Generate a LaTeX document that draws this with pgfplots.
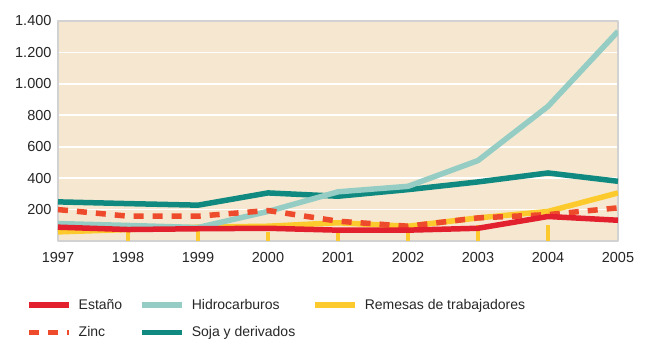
\documentclass[border=0pt]{standalone}
\usepackage{pgfplots}
\pgfplotsset{compat=1.18}
\usepackage{fontspec}
\setmainfont{Liberation Sans}
\definecolor{bg}{HTML}{F6E8D0}
\definecolor{estano}{HTML}{E2202E}
\definecolor{hidro}{HTML}{95CDC5}
\definecolor{remesas}{HTML}{FCCA2C}
\definecolor{zinc}{HTML}{EE4A2C}
\definecolor{soja}{HTML}{108A80}
\definecolor{framec}{HTML}{D2D2D2}
\begin{document}
\begin{tikzpicture}
\useasboundingbox (-58pt,-102pt) rectangle (589pt,241pt);
\begin{axis}[
  at={(0,0)}, anchor=south west,
  scale only axis, width=560pt, height=220pt,
  xmin=1997, xmax=2005, ymin=0, ymax=1400,
  xtick={1997,1998,...,2005},
  ytick={200,400,...,1400},
  x tick label style={/pgf/number format/1000 sep={}},
  y tick label style={/pgf/number format/1000 sep={.}},
  /pgf/number format/assume math mode=true,
  tick label style={font=\fontsize{14.5}{16}\selectfont, text=black!85},
  major tick length=0pt,
  axis background/.style={fill=bg},
  ymajorgrids, grid style={white, line width=1.6pt},
  axis line style={framec, line width=1.2pt},
  xticklabel style={yshift=-8pt}, yticklabel style={xshift=-3pt},
  legend columns=3,
  legend cell align=left,
  legend style={draw=none, fill=none, at={(rel axis cs:0,0)}, anchor=north west,
    xshift=-35pt, yshift=-54pt,
    font=\fontsize{14}{16}\selectfont, text=black!85,
    /tikz/every odd column/.append style={column sep=5pt},
    /tikz/every even column/.append style={column sep=15pt},
    row sep=12pt},
  legend image code/.code={\draw[#1] (0pt,0pt) -- (40pt,0pt);},
  line cap=butt, line join=round,
]
\addlegendimage{estano, line width=5.5pt}
\addlegendentry{Estaño}
\addlegendimage{hidro, line width=5.5pt}
\addlegendentry{Hidrocarburos}
\addlegendimage{remesas, line width=5.5pt}
\addlegendentry{Remesas de trabajadores}
\addlegendimage{zinc, line width=5.5pt, dash pattern=on 10pt off 9pt}
\addlegendentry{Zinc}
\addlegendimage{soja, line width=5.5pt}
\addlegendentry{Soja y derivados}

% yellow stubs
\addplot[ycomb, remesas, line width=3.5pt, forget plot, mark=none]
  coordinates {(1998,55)(1999,90)(2000,60)(2001,60)(2002,60)(2003,105)(2004,105)};
% Soja y derivados
\addplot[soja, line width=5.5pt, forget plot, mark=none]
  coordinates {(1997,249)(1998,238)(1999,228)(2000,306)(2001,285)(2002,327)(2003,376)(2004,433)(2005,380)};
% Remesas de trabajadores
\addplot[remesas, line width=5.5pt, forget plot, mark=none]
  coordinates {(1997,58)(1998,73)(1999,88)(2000,94)(2001,116)(2002,94)(2003,147)(2004,188)(2005,306)};
% Hidrocarburos
\addplot[hidro, line width=5.5pt, forget plot, mark=none]
  coordinates {(1997,111)(1998,99)(1999,86)(2000,188)(2001,313)(2002,348)(2003,512)(2004,857)(2005,1334)};
% Zinc
\addplot[zinc, line width=5.5pt, dash pattern=on 10pt off 9pt, forget plot, mark=none]
  coordinates {(1997,200)(1998,158)(1999,158)(2000,194)(2001,126)(2002,94)(2003,147)(2004,168)(2005,211)};
% Estaño
\addplot[estano, line width=5.5pt, forget plot, mark=none]
  coordinates {(1997,88)(1998,73)(1999,78)(2000,81)(2001,69)(2002,69)(2003,81)(2004,156)(2005,132)};
\end{axis}
\end{tikzpicture}
\end{document}
